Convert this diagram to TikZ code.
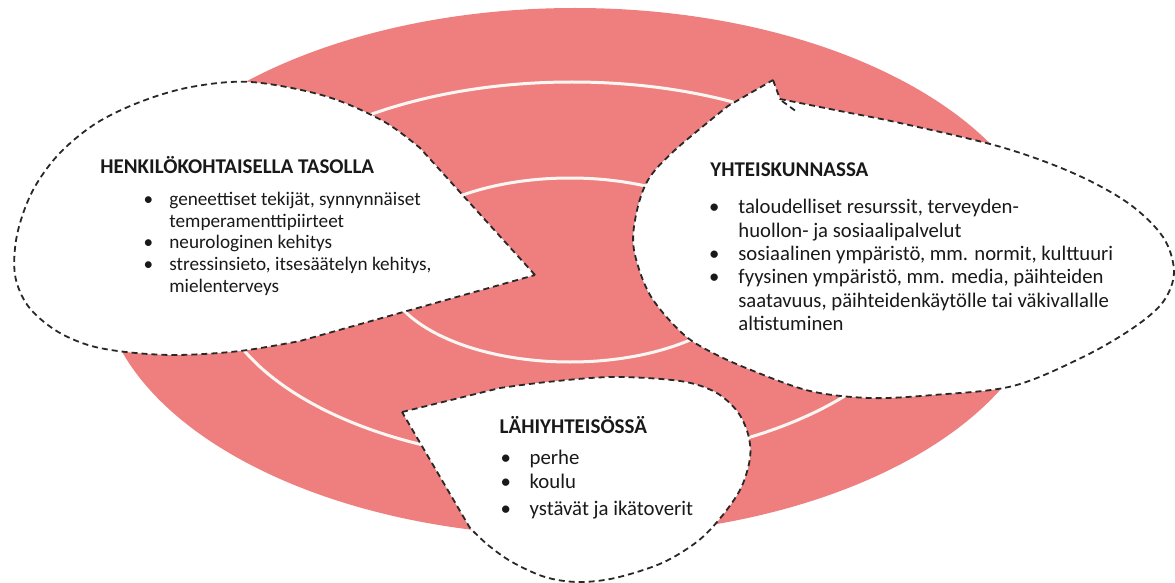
\documentclass[tikz,border=0pt]{standalone}
\usepackage{fontspec}
\setmainfont{Carlito}

\definecolor{ringpink}{RGB}{238,127,126}
\definecolor{ringwhite}{RGB}{253,246,242}
\definecolor{dashgrey}{RGB}{40,40,40}
\definecolor{txtblack}{RGB}{25,25,25}

\newcommand{\bubtitle}[1]{{\fontsize{21}{21}\selectfont\bfseries #1}}
\newcommand{\bul}{\makebox[8pt]{\textbullet}}

\tikzset{every picture/.style={line width=0.75pt}}
\tikzset{
  bubble/.style={draw=dashgrey, fill=white, line width=1.8pt, dash pattern=on 6pt off 4pt, line join=round},
  ringline/.style={draw=ringwhite, line width=3pt},
  bubtext/.style={anchor=base west, inner sep=0pt, text=txtblack}
}

\begin{document}
\begin{tikzpicture}[x=1pt,y=1pt,yscale=-1,xscale=1]
\useasboundingbox (0,0) rectangle (1175,583);

%Shape: Ellipse [outer field]
\fill[ringpink] (575,272) ellipse (475 and 264);
%Shape: Ellipse [outer ring]
\draw[ringline] (572,272) ellipse (360 and 190);
%Shape: Ellipse [inner ring]
\draw[ringline] (570,270) ellipse (185 and 92);

%Shape: Callout [personal level]
\draw[bubble] (535,275) -- plot[smooth, tension=0.55] coordinates {(420,148) (383,121) (325,96) (251,82) (191,87) (140,102) (95,124) (58,155) (32,192) (17,235) (15,275) (28,306) (55,330) (88,345) (126,352) (177,355) (240,351) (300,341)} -- cycle;

%Shape: Callout [society]
\draw[bubble] (773,80) -- (780,99) -- plot[smooth, tension=0.55] coordinates {(780,99) (840,111) (900,123) (1001,147) (1073,173) (1128,203) (1163,237) (1174,272) (1163,302) (1133,328) (1083,357) (1013,386) (933,395) (870,398) (810,391) (751,370) (711,352) (682,333) (650,295) (634,250) (636,215) (648,180) (675,150) (728,106)} -- cycle;
\draw[bubble] (782,101) -- (797,112);

%Shape: Callout [community]
\draw[bubble] (402,412) -- plot[smooth, tension=0.55] coordinates {(500,388) (547,382) (613,377) (680,381) (715,392) (737,411) (748,434) (750,458) (741,488) (722,516) (698,541) (662,563) (615,578) (578,582) (545,577) (512,562) (488,545) (470,528)} -- cycle;

% Text Node
\node[bubtext, font=\fontsize{19.2}{21.7}\selectfont] (perstxt) at (100,173.1) {\begin{tabular}[t]{@{\hspace{44pt}}l@{\hspace{17pt}}l@{}}
\multicolumn{2}{@{}l@{}}{\bubtitle{HENKILÖKOHTAISELLA TASOLLA}}\\[10.7pt]
\bul & geneettiset tekijät, synnynnäiset\\
 & temperamenttipiirteet\\
\bul & neurologinen kehitys\\
\bul & stressinsieto, itsesäätelyn kehitys,\\
 & mielenterveys
\end{tabular}};
% Text Node
\node[bubtext, font=\fontsize{20.7}{23.3}\selectfont] (soctxt) at (710,176.4) {\begin{tabular}[t]{@{\hspace{0pt}}l@{\hspace{20pt}}l@{}}
\multicolumn{2}{@{}l@{}}{\bubtitle{YHTEISKUNNASSA}}\\[14.1pt]
\bul & taloudelliset resurssit, terveyden-\\
 & huollon- ja sosiaalipalvelut\\
\bul & sosiaalinen ympäristö, mm. normit, kulttuuri\\
\bul & fyysinen ympäristö, mm. media, päihteiden\\
 & saatavuus, päihteidenkäytölle tai väkivallalle\\
 & altistuminen
\end{tabular}};
% Text Node
\node[bubtext, font=\fontsize{20.8}{23.4}\selectfont] (comtxt) at (499.3,433.7) {\begin{tabular}[t]{@{\hspace{2pt}}l@{\hspace{20pt}}l@{}}
\multicolumn{2}{@{}l@{}}{\bubtitle{LÄHIYHTEISÖSSÄ}}\\[7.7pt]
\bul & perhe\\
\bul & koulu\\[3.9pt]
\bul & ystävät ja ikätoverit
\end{tabular}};

\end{tikzpicture}
\end{document}
